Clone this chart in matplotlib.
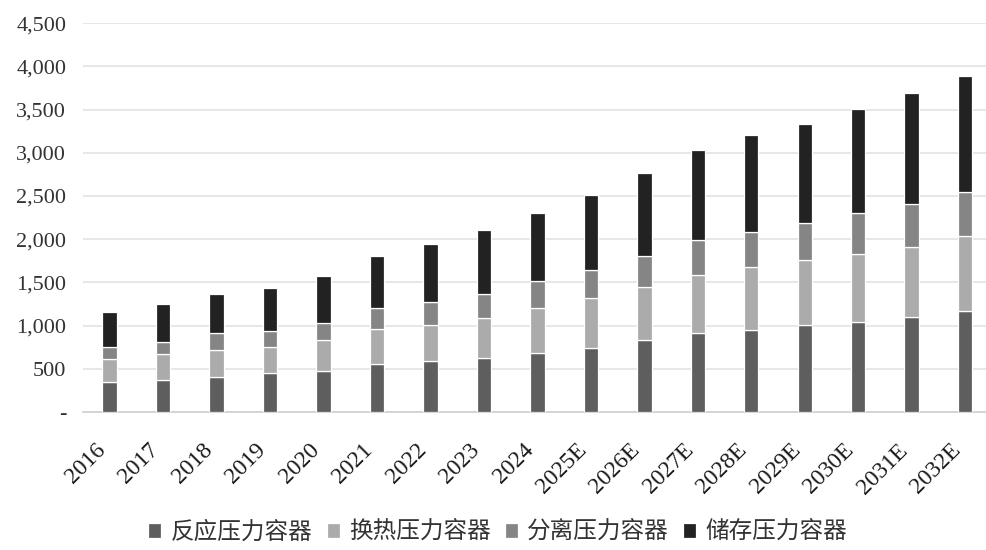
import matplotlib.pyplot as plt
import numpy as np
from matplotlib.ticker import FuncFormatter

# 年份
years = ["2016", "2017", "2018", "2019", "2020", "2021", "2022", "2023", "2024",
         "2025E", "2026E", "2027E", "2028E", "2029E", "2030E", "2031E", "2032E"]

# 各类压力容器
fanying = [350, 370, 405, 445, 475, 553, 590, 625, 685, 740, 830, 910, 945, 1005, 1045, 1100, 1170]
huanre  = [260, 295, 310, 310, 355, 402, 420, 465, 515, 575, 620, 675, 735, 755, 785, 810, 865]
fenli   = [145, 145, 195, 185, 200, 244, 265, 280, 310, 330, 360, 400, 405, 425, 470, 495, 505]
chucun  = [400, 440, 450, 500, 540, 611, 670, 730, 790, 860, 960, 1050, 1120, 1150, 1210, 1285, 1345]

names = ["反应压力容器", "换热压力容器", "分离压力容器", "储存压力容器"]
colors = ["#5e5e5e", "#ababab", "#858585", "#222222"]

fig = plt.figure(figsize=(9.86, 5.5), dpi=100)
ax = fig.add_axes([0.084, 0.251, 0.922, 0.707])

x = np.arange(len(years))
bottom = np.zeros(len(years))
for vals, name, c in zip([fanying, huanre, fenli, chucun], names, colors):
    ax.bar(x, vals, width=0.27, bottom=bottom, color=c, edgecolor="white",
           linewidth=0.9, label=name, zorder=3)
    bottom += np.array(vals)

ax.set_xlim(-0.5, 16.5)
ax.set_ylim(0, 4500)
ax.set_yticks(np.arange(0, 4501, 500))
ax.yaxis.set_major_formatter(FuncFormatter(lambda v, p: "-" if v == 0 else f"{int(v):,}"))
ax.grid(axis="y", color="#e3e3e3", linewidth=1.2, zorder=0)

for s in ["top", "right", "left"]:
    ax.spines[s].set_visible(False)
ax.spines["bottom"].set_color("#d0d0d0")
ax.spines["bottom"].set_linewidth(1.2)
ax.tick_params(axis="both", length=0)
ax.tick_params(axis="y", pad=12)
ax.tick_params(axis="x", pad=20)

ax.set_xticks(x)
ax.set_xticklabels(years, rotation=45, ha="right", family="Liberation Serif",
                   fontsize=17, color="#1a1a1a")
for lab in ax.get_yticklabels():
    lab.set_family("Liberation Serif")
    lab.set_fontsize(16)
    lab.set_color("#333333")

leg = fig.legend(loc="center", bbox_to_anchor=(0.505, 0.032), ncol=4, frameon=False,
                 prop={"family": "Noto Sans CJK SC", "size": 17},
                 handlelength=0.55, handleheight=0.55, handletextpad=0.4,
                 columnspacing=0.6, borderpad=0.1)
for t in leg.get_texts():
    t.set_color("#333333")

fig.savefig("out.png", dpi=100)
